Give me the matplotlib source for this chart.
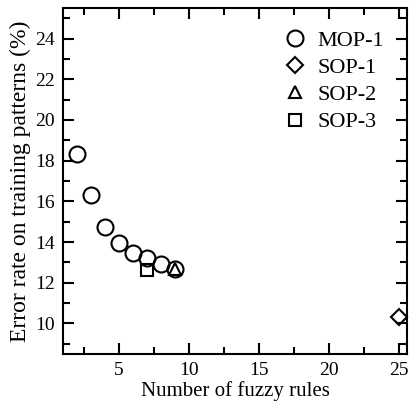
import matplotlib
matplotlib.use("Agg")
import matplotlib.pyplot as plt
from matplotlib.ticker import MultipleLocator

plt.rcParams["font.family"] = ["Liberation Serif", "DejaVu Serif"]

# data
mop1_rules = [2, 3, 4, 5, 6, 7, 8, 9]
mop1_err = [18.35, 16.3, 14.75, 13.95, 13.45, 13.2, 12.9, 12.7]
sop1_rules = [25]
sop1_err = [10.33]
sop2_rules = [9]
sop2_err = [12.7]
sop3_rules = [7]
sop3_err = [12.62]

fig = plt.figure(figsize=(4.11, 4.05), dpi=100)
ax = fig.add_axes([63 / 411, 51 / 405, 344 / 411, 346 / 405])

style = dict(linestyle="none", markerfacecolor="none", markeredgecolor="black",
             markeredgewidth=1.5, clip_on=False)
ax.plot(mop1_rules, mop1_err, marker="o", markersize=11.5, label="MOP-1", **style)
ax.plot(sop1_rules, sop1_err, marker="D", markersize=8, label="SOP-1", **style)
ax.plot(sop2_rules, sop2_err, marker="^", markersize=9, label="SOP-2", **style)
ax.plot(sop3_rules, sop3_err, marker="s", markersize=8, label="SOP-3", **style)

ax.set_xlim(1, 25.6)
ax.set_ylim(8.5, 25.5)
ax.xaxis.set_major_locator(MultipleLocator(5))
ax.xaxis.set_minor_locator(MultipleLocator(2.5))
ax.yaxis.set_major_locator(MultipleLocator(2))
ax.yaxis.set_minor_locator(MultipleLocator(1))
ax.tick_params(which="both", direction="in", top=True, right=True, width=1.5,
               labelsize=14, pad=6)
ax.tick_params(which="major", length=8)
ax.tick_params(which="minor", length=5)
for s in ax.spines.values():
    s.set_linewidth(1.5)

ax.set_xlabel("Number of fuzzy rules", fontsize=15, labelpad=1)
ax.set_ylabel("Error rate on training patterns (%)", fontsize=17, labelpad=3)

leg = ax.legend(loc="upper right", frameon=False, fontsize=16, handletextpad=0.4,
                labelspacing=0.3, borderaxespad=0.3, handlelength=1.2,
                bbox_to_anchor=(0.978, 0.981))

fig.savefig("out.png", dpi=100)
